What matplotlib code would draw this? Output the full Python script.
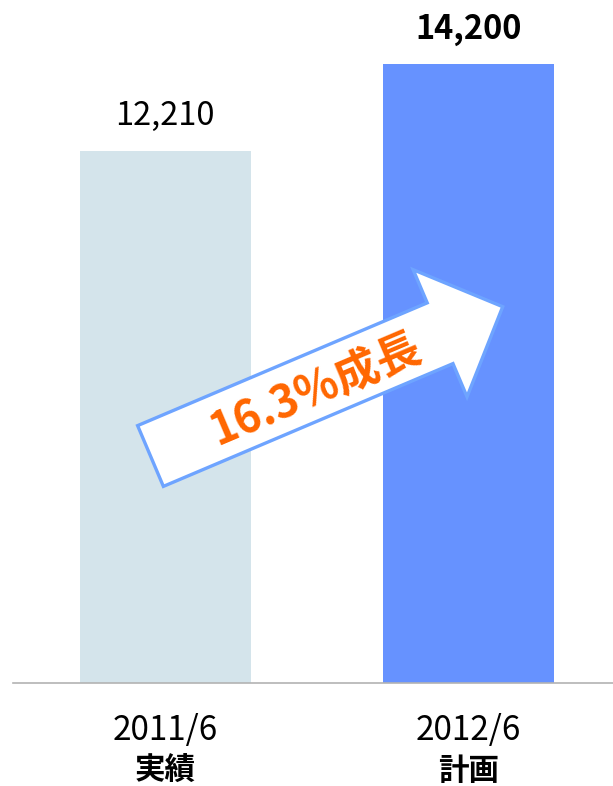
import matplotlib
matplotlib.use("Agg")
import matplotlib.pyplot as plt
from matplotlib.patches import FancyArrow
import matplotlib.transforms as mtransforms

plt.rcParams["font.family"] = ["Noto Sans CJK JP", "DejaVu Sans"]

periods = ["2011/6", "2012/6"]
kinds = ["実績", "計画"]
values = [12210, 14200]
value_labels = ["12,210", "14,200"]
label_weights = ["normal", "bold"]
colors = ["#d4e4eb", "#6692ff"]
growth_label = "16.3%成長"

fig = plt.figure(figsize=(6.13, 7.86), dpi=100)
ax = fig.add_axes([13.3 / 613, 102.7 / 786, 599.7 / 613, 683.3 / 786])

x = list(range(len(values)))
ax.bar(x, values, width=0.563, color=colors, zorder=2)

ax.set_xlim(-0.5017, 1.4776)
ax.set_ylim(0, 15668)

for side in ["top", "right", "left"]:
    ax.spines[side].set_visible(False)
ax.spines["bottom"].set_color("#b3b3b3")
ax.spines["bottom"].set_linewidth(1.2)
ax.set_yticks([])
ax.set_xticks([])

# value labels above bars
for xi, v, lab, w in zip(x, values, value_labels, label_weights):
    ax.annotate(lab, (xi, v), xytext=(0, 25), textcoords="offset points",
                ha="center", va="center", fontsize=23.5, fontweight=w, color="black")

# two-line category labels
trans = mtransforms.blended_transform_factory(ax.transData, ax.transAxes)
for xi, p, k in zip(x, periods, kinds):
    ax.text(xi, -0.0688, p, transform=trans, ha="center", va="center",
            fontsize=24, color="black")
    ax.text(xi, -0.128, k, transform=trans, ha="center", va="center",
            fontsize=22, fontweight="bold", color="black")

# growth arrow (figure inches)
tail = (150.5 / 100, (786 - 456) / 100)
tip = (502.7 / 100, (786 - 306.7) / 100)
arrow = FancyArrow(tail[0], tail[1], tip[0] - tail[0], tip[1] - tail[1],
                   width=0.66, head_width=1.38, head_length=0.68,
                   length_includes_head=True, facecolor="white",
                   edgecolor="#6ea4ff", linewidth=2.4,
                   transform=fig.dpi_scale_trans, zorder=5)
fig.add_artist(arrow)

fig.text(316 / 613, (786 - 390) / 786, growth_label, ha="center", va="center",
         rotation=23, rotation_mode="anchor", fontsize=32, fontweight="bold",
         color="#ff6600", zorder=6)

fig.savefig("out.png", dpi=100)
